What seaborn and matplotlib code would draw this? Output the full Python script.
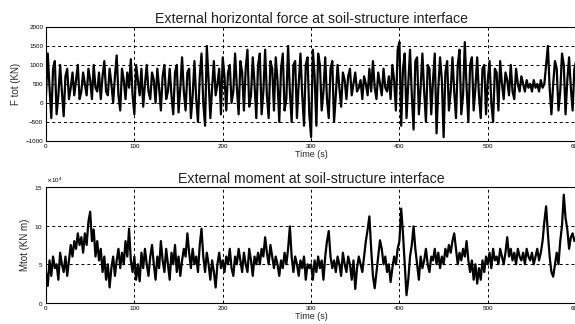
import numpy as np
import pandas as pd
import matplotlib
matplotlib.use("Agg")
import matplotlib.pyplot as plt
import seaborn as sns

# ---- data (sampled every 2 s, 0..600 s) ----
time_step = 2.0
force_kn = [
    200, 1300, 400, -400, 900, 1100, -300, 200, 1000, 300,
    -350, 700, 900, 100, 400, 800, 200, 600, 1000, 100,
    300, 800, 500, 200, 900, 600, 100, 1000, 400, 300,
    800, 100, 700, 1100, 300, 200, 900, 500, 0, 700,
    1250, 200, -200, 900, 600, 100, 800, 400, 1150, 200,
    -300, 1000, 600, 200, 900, -100, 500, 1000, 300, 100,
    800, 600, 0, 900, 400, -200, 700, 1000, 100, 300,
    900, 200, -300, 800, 1000, -250, 400, 1200, 300, -200,
    800, 900, -400, 200, 1100, 100, -500, 700, 1300, 0,
    -600, 1500, 600, -400, 400, 1100, 200, 500, 900, -300,
    1200, 700, -200, 800, 1000, 0, 300, 1300, 400, -300,
    1100, 800, -200, 900, 1400, -100, 200, 1200, 500, -400,
    1000, 1300, -300, 300, 1400, 200, -400, 1100, 900, -200,
    1200, 600, -500, 900, 1300, -200, 100, 1500, 300, -500,
    1000, 1100, -400, 500, 1300, 200, -600, 1000, 1200, -300,
    -900, 1400, 700, -600, 1300, 1000, -200, 300, 1200, 100,
    -400, 900, 1100, -500, 200, 1000, 400, -100, 800, 600,
    100, 700, 900, 200, 500, 800, 300, 400, 600, 100,
    700, 500, 200, 900, 300, 1100, 400, 100, 800, 500,
    200, 900, 400, 300, 700, 100, 1000, 600, -200, 1400,
    1600, -600, 900, 1300, -400, 500, 1400, 200, -700, 1100,
    1200, -300, 400, 1300, 300, -500, 1000, 900, -300, 600,
    1300, -800, 400, 1200, 600, -900, 800, 1100, -200, 300,
    1200, 300, -400, 1000, 1400, -300, 200, 1600, 400, -500,
    1000, 1200, -200, 400, 1200, 200, -400, 900, 1000, -300,
    600, 1100, 0, -500, 900, 800, -200, 1100, 500, 100,
    800, 600, 200, 1000, 300, 100, 900, 500, 300, 700,
    500, 300, 600, 400, 500, 300, 600, 400, 500, 300,
    600, 400, 500, 1000, 1500, 400, -300, 500, 1100, 900,
    -200, 300, 1300, 1000, -300, 600, 1200, 400, -200, 900,
    1100,
]
moment_e4 = [
    4.0, 2.2, 5.5, 3.5, 6.0, 4.5, 5.0, 3.0, 6.5, 5.0,
    4.0, 6.0, 3.5, 5.5, 7.5, 6.0, 8.0, 7.0, 9.0, 7.5,
    8.5, 6.5, 9.0, 7.5, 10.5, 11.8, 8.0, 9.5, 6.0, 8.0,
    5.5, 7.0, 4.0, 6.0, 3.0, 5.0, 2.0, 4.5, 6.0, 3.5,
    5.5, 7.0, 4.5, 6.5, 5.0, 8.0, 6.0, 9.6, 5.5, 4.0,
    6.0, 3.0, 5.0, 2.8, 6.5, 4.5, 7.0, 5.0, 3.5, 6.0,
    7.5, 5.0, 3.0, 6.0, 4.5, 8.0, 5.5, 4.0, 7.0, 5.0,
    3.0, 6.5, 5.0, 7.5, 4.0, 6.0, 3.5, 5.5, 7.0, 6.0,
    9.0, 6.5, 4.5, 7.0, 5.0, 6.0, 4.0, 7.5, 9.6, 6.0,
    4.0, 6.5, 5.0, 3.0, 5.5, 4.0, 2.0, 5.0, 6.5, 4.5,
    5.5, 4.0, 6.0, 5.0, 7.0, 4.5, 3.5, 6.0, 5.0, 7.0,
    5.5, 4.0, 6.5, 5.0, 4.0, 7.0, 5.5, 3.5, 6.0, 5.0,
    6.5, 5.0, 7.0, 6.0, 8.5, 6.5, 5.0, 7.5, 6.0, 4.5,
    6.0, 5.0, 3.5, 5.5, 4.5, 6.5, 5.0, 7.0, 9.9, 6.0,
    4.0, 6.0, 5.0, 3.5, 5.5, 4.5, 6.0, 3.0, 5.0, 4.5,
    5.0, 3.0, 5.5, 4.0, 6.0, 4.5, 5.5, 3.0, 6.0, 8.0,
    9.3, 6.0, 4.5, 5.5, 4.0, 6.0, 5.0, 3.5, 6.5, 5.0,
    4.0, 6.0, 5.0, 3.0, 5.5, 1.8, 4.5, 6.0, 5.0, 4.0,
    6.0, 8.0, 9.5, 11.2, 7.0, 3.5, 1.9, 4.0, 6.0, 8.1,
    7.0, 5.0, 6.0, 4.0, 5.0, 2.7, 4.5, 6.0, 5.0, 7.0,
    8.0, 12.2, 9.0, 5.0, 1.0, 3.0, 6.0, 7.5, 9.9, 7.0,
    5.0, 3.0, 6.0, 4.5, 5.5, 7.0, 5.0, 4.0, 6.0, 5.5,
    7.0, 5.0, 6.5, 4.5, 6.0, 5.0, 7.0, 6.0, 7.5, 6.5,
    8.0, 9.0, 7.0, 5.0, 6.5, 5.5, 7.0, 6.0, 8.0, 5.5,
    4.0, 5.5, 3.0, 5.0, 2.5, 4.5, 3.0, 5.5, 4.0, 6.0,
    5.0, 6.5, 4.5, 7.0, 5.5, 6.0, 5.0, 7.0, 6.0, 5.0,
    6.5, 8.5, 6.0, 7.0, 5.5, 6.5, 5.0, 7.0, 6.0, 5.5,
    6.5, 5.0, 7.0, 6.0, 5.5, 6.5, 5.0, 6.0, 7.0, 5.5,
    6.5, 8.0, 10.5, 12.5, 9.0, 6.0, 4.0, 3.4, 5.0, 6.5,
    5.0, 8.0, 10.0, 14.0, 11.0, 9.5, 7.0, 8.5, 9.0, 8.0,
    8.5,
]
moment_scale = 1e4
x_ticks = [0, 100, 200, 300, 400, 500, 600]
force_ticks = [-1000, -500, 0, 500, 1000, 1500, 2000]
moment_ticks = [0, 5e4, 10e4, 15e4]
titles = ["External horizontal force at soil-structure interface",
          "External moment at soil-structure interface"]
ylabels = ["F tot (KN)", "Mtot (KN m)"]
xlabel = "Time (s)"

sns.set_style("white")
plt.rcParams['font.family'] = ['Liberation Sans', 'DejaVu Sans']

t = np.arange(len(force_kn)) * time_step
df_f = pd.DataFrame({"t": t, "v": force_kn})
df_m = pd.DataFrame({"t": np.arange(len(moment_e4)) * time_step,
                     "v": np.array(moment_e4) * moment_scale})

fig = plt.figure(figsize=(5.75, 3.24), dpi=100)
ax1 = fig.add_axes([0.080, 0.565, 0.922, 0.352])
ax2 = fig.add_axes([0.080, 0.065, 0.922, 0.358])

for ax, df, yt, yl, title, ylab in [
    (ax1, df_f, force_ticks, (-1000, 2000), titles[0], ylabels[0]),
    (ax2, df_m, moment_ticks, (0, 15e4), titles[1], ylabels[1]),
]:
    sns.lineplot(data=df, x="t", y="v", ax=ax, color="black", linewidth=1.6)
    ax.set_xlim(0, 600)
    ax.set_ylim(*yl)
    ax.set_xticks(x_ticks)
    ax.set_yticks(yt)
    ax.grid(True, color="black", linestyle=(0, (3, 3)), linewidth=0.7)
    ax.set_axisbelow(True)
    for s in ax.spines.values():
        s.set_visible(True)
        s.set_color("black")
        s.set_linewidth(0.8)
    ax.tick_params(direction="in", length=2.5, width=0.6, labelsize=4.5,
                   colors="black", pad=2)
    ax.set_title(title, fontsize=10.2, color="#222222", pad=3)
    ax.set_ylabel(ylab, fontsize=7, labelpad=3)
    ax.set_xlabel(xlabel, fontsize=6.5, labelpad=1)

ax2.ticklabel_format(axis="y", style="sci", scilimits=(4, 4), useMathText=True)
ax2.yaxis.get_offset_text().set_fontsize(4.5)

fig.savefig("out.png", dpi=100, facecolor="white")
